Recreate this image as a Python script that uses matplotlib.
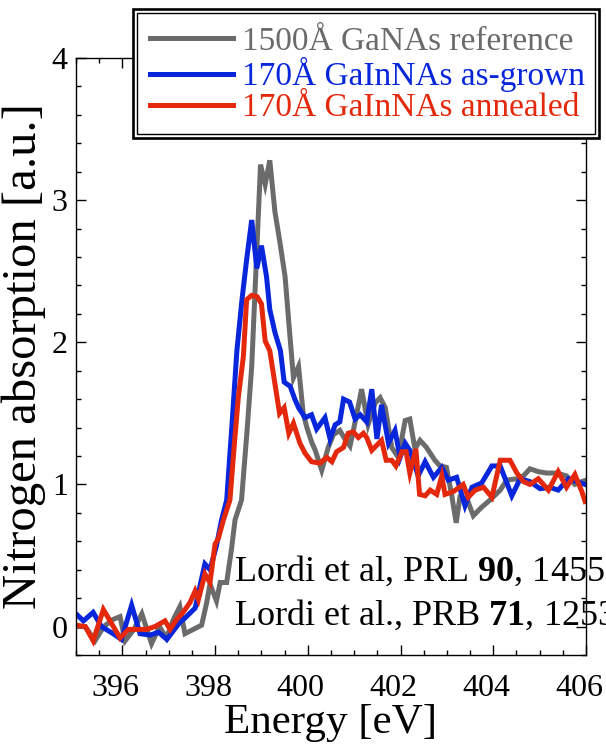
import matplotlib
matplotlib.use("Agg")
import matplotlib.pyplot as plt
import matplotlib.transforms as mtransforms
from matplotlib.patches import Rectangle
from matplotlib.ticker import MultipleLocator

plt.rcParams['font.family'] = ['Liberation Serif', 'DejaVu Serif']
plt.rcParams['mathtext.fontset'] = 'custom'
plt.rcParams['mathtext.rm'] = 'Liberation Serif'
plt.rcParams['mathtext.bf'] = 'Liberation Serif:bold'

# 1500A GaNAs reference (gray)
ref_e = [395.0, 395.2, 395.41, 395.6, 395.8, 395.95, 396.06, 396.25, 396.42, 396.63,
         396.8, 396.95, 397.1, 397.24, 397.35, 397.53, 397.71, 397.82, 397.89, 398.03,
         398.11, 398.25, 398.36, 398.43, 398.57, 398.69, 398.79, 398.88, 398.98, 399.08,
         399.18, 399.29, 399.4, 399.51, 399.6, 399.69, 399.8, 399.9, 399.98, 400.08,
         400.16, 400.3, 400.44, 400.55, 400.69, 400.8, 400.91, 401.02, 401.16, 401.3,
         401.45, 401.56, 401.67, 401.81, 401.95, 402.1, 402.2, 402.31, 402.42, 402.56,
         402.74, 402.85, 402.99, 403.1, 403.2, 403.28, 403.43, 403.57, 403.75, 403.93,
         404.15, 404.29, 404.51, 404.65, 404.79, 404.97, 405.15, 405.37, 405.58, 405.76,
         405.91, 406.0]
ref_y = [0.0, 0.0, -0.10, 0.0, 0.05, 0.07, -0.10, -0.02, 0.09, -0.12,
         0.0, -0.08, 0.05, 0.14, -0.05, -0.02, 0.01, 0.17, 0.30, 0.18,
         0.31, 0.31, 0.56, 0.75, 0.89, 1.38, 1.83, 2.5, 3.25, 3.11,
         3.28, 2.92, 2.7, 2.46, 2.1, 1.75, 1.83, 1.5, 1.40, 1.30,
         1.24, 1.10, 1.26, 1.35, 1.38, 1.32, 1.27, 1.44, 1.67, 1.42,
         1.57, 1.61, 1.54, 1.26, 1.19, 1.45, 1.46, 1.25, 1.31, 1.26,
         1.17, 1.13, 1.12, 0.93, 0.73, 0.91, 0.90, 0.78, 0.84, 0.89,
         0.96, 1.03, 1.04, 1.06, 1.11, 1.09, 1.08, 1.08, 1.06, 1.00,
         1.02, 1.03]

# 170A GaInNAs as-grown (blue)
grown_e = [395.0, 395.16, 395.37, 395.55, 395.8, 395.98, 396.2, 396.38, 396.6, 396.78,
           396.96, 397.1, 397.24, 397.35, 397.57, 397.67, 397.78, 397.89, 398.03, 398.14,
           398.25, 398.36, 398.47, 398.58, 398.68, 398.79, 398.9, 399.0, 399.11, 399.18,
           399.29, 399.41, 399.49, 399.62, 399.72, 399.8, 399.94, 400.08, 400.19, 400.37,
           400.48, 400.59, 400.69, 400.77, 400.9, 401.02, 401.13, 401.27, 401.38, 401.49,
           401.59, 401.74, 401.88, 401.99, 402.1, 402.2, 402.38, 402.53, 402.71, 402.89,
           403.03, 403.21, 403.39, 403.54, 403.75, 403.97, 404.15, 404.4, 404.58, 404.79,
           405.01, 405.22, 405.4, 405.62, 405.8, 405.98]
grown_y = [0.09, 0.04, 0.10, 0.0, -0.05, -0.09, 0.15, -0.05, -0.06, -0.04,
           -0.09, -0.03, 0.03, 0.06, 0.13, 0.28, 0.44, 0.40, 0.57, 0.75,
           0.89, 1.4, 1.94, 2.3, 2.58, 2.86, 2.52, 2.68, 2.46, 2.23,
           2.07, 1.94, 1.72, 1.69, 1.6, 1.54, 1.47, 1.49, 1.39, 1.47,
           1.32, 1.42, 1.44, 1.60, 1.58, 1.46, 1.49, 1.44, 1.67, 1.32,
           1.56, 1.29, 1.38, 1.19, 1.29, 1.24, 1.06, 1.16, 1.05, 1.12,
           1.03, 1.05, 0.85, 0.98, 1.01, 1.13, 1.13, 0.92, 1.04, 1.02,
           0.97, 0.98, 0.96, 1.04, 1.02, 1.00]

# 170A GaInNAs annealed (red)
ann_e = [395.0, 395.2, 395.37, 395.59, 395.77, 395.95, 396.13, 396.3, 396.52, 396.7,
         396.92, 397.03, 397.17, 397.31, 397.46, 397.57, 397.64, 397.78, 397.89, 398.0,
         398.07, 398.18, 398.32, 398.42, 398.5, 398.61, 398.68, 398.79, 398.91, 399.0,
         399.08, 399.18, 399.29, 399.39, 399.49, 399.59, 399.69, 399.83, 399.94, 400.08,
         400.26, 400.41, 400.52, 400.62, 400.77, 400.87, 400.98, 401.09, 401.2, 401.27,
         401.38, 401.59, 401.69, 401.81, 401.9, 402.03, 402.12, 402.2, 402.33, 402.41,
         402.53, 402.64, 402.78, 402.89, 402.96, 403.14, 403.35, 403.46, 403.61, 403.79,
         403.97, 404.15, 404.36, 404.51, 404.65, 404.79, 404.97, 405.19, 405.4, 405.58,
         405.76, 405.91, 405.98]
ann_y = [0.01, 0.0, -0.10, 0.12, 0.02, -0.08, -0.02, -0.02, -0.02, 0.0,
         0.04, -0.02, 0.05, 0.10, 0.17, 0.25, 0.19, 0.37, 0.31, 0.58,
         0.62, 0.75, 0.89, 1.3, 1.61, 1.90, 2.30, 2.33, 2.32, 2.27,
         2.01, 1.94, 1.71, 1.50, 1.54, 1.36, 1.43, 1.29, 1.22, 1.16,
         1.15, 1.19, 1.16, 1.23, 1.26, 1.36, 1.37, 1.33, 1.36, 1.33,
         1.24, 1.31, 1.17, 1.17, 1.13, 1.23, 1.23, 1.08, 1.25, 0.93,
         0.92, 0.96, 0.93, 1.06, 0.93, 0.95, 1.00, 0.91, 0.96, 0.98,
         0.91, 1.17, 1.17, 1.08, 1.02, 1.00, 1.04, 0.96, 1.09, 0.98,
         1.07, 0.95, 0.88]

labels = ['1500Å GaNAs reference', '170Å GaInNAs as-grown', '170Å GaInNAs annealed']
colors = ['#6b6b6b', '#0826dc', '#e4280c']

fig = plt.figure(figsize=(6.06, 7.5), dpi=100)
ax = fig.add_axes([76 / 606, 95 / 750, 510 / 606, 597 / 750])

lines = []
for e, y, c, lab in zip([ref_e, grown_e, ann_e], [ref_y, grown_y, ann_y], colors, labels):
    ln, = ax.plot(e, y, color=c, lw=3.6, label=lab, solid_joinstyle='miter')
    lines.append(ln)

ax.set_xlim(395, 406)
ax.set_ylim(-0.2, 4)
ax.xaxis.set_major_locator(MultipleLocator(2))
ax.xaxis.set_minor_locator(MultipleLocator(0.5))
ax.yaxis.set_major_locator(MultipleLocator(1))
ax.yaxis.set_minor_locator(MultipleLocator(0.2))
ax.tick_params(which='both', direction='in', top=True, right=True, width=1)
ax.tick_params(which='major', length=7, labelsize=23)
ax.tick_params(which='minor', length=3.6)
ax.tick_params(axis='x', pad=14)
ax.tick_params(axis='y', pad=6)
for sp in ax.spines.values():
    sp.set_linewidth(1)

# x tick labels sit a little left of their ticks in the original
shift = mtransforms.ScaledTranslation(-5 / 72, 0, fig.dpi_scale_trans)
for lbl in ax.get_xticklabels():
    lbl.set_transform(lbl.get_transform() + shift)

ax.set_xlabel('Energy [eV]', fontsize=31, labelpad=0)
ax.set_ylabel('Nitrogen absorption [a.u.]', fontsize=35, labelpad=4)

ax.text(0.31, 0.124, r'Lordi et al, PRL $\mathbf{90}$, 145505 (2003)',
        transform=ax.transAxes, fontsize=26, clip_on=False)
ax.text(0.31, 0.05, r'Lordi et al., PRB $\mathbf{71}$, 125309 (2005)',
        transform=ax.transAxes, fontsize=26, clip_on=False)

# legend box with double border
fig.add_artist(Rectangle((133 / 606, 1 - 138 / 750), 466 / 606, 129 / 750,
                         transform=fig.transFigure, facecolor='white',
                         edgecolor='black', lw=1.9, zorder=4))
fig.add_artist(Rectangle((137 / 606, 1 - 134 / 750), 458 / 606, 121 / 750,
                         transform=fig.transFigure, facecolor='none',
                         edgecolor='black', lw=1.0, zorder=4))
leg = fig.legend(handles=lines, labels=labels, loc='upper left',
                 bbox_to_anchor=(150 / 606, 1 - 26 / 750), frameon=False,
                 fontsize=24, handlelength=2.5, handletextpad=0.27,
                 labelspacing=0.02, borderpad=0, borderaxespad=0,
                 labelcolor='linecolor')
leg.set_zorder(6)

fig.savefig('out.png', dpi=100)
